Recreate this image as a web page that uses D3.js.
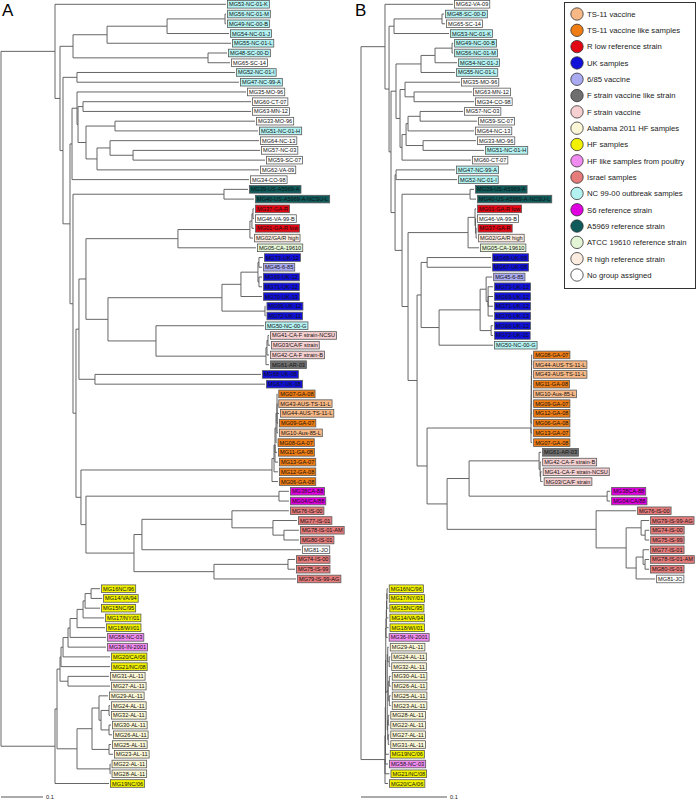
<!DOCTYPE html>
<html>
<head>
<meta charset="utf-8">
<script src="https://cdn.jsdelivr.net/npm/d3@7"></script>
<style>
  body { margin: 0; background: #fff; }
  svg { display: block; font-family: "Liberation Sans", Arial, sans-serif; }
</style>
</head>
<body>
<svg id="chart" width="696" height="800"></svg>
<script>
// ---- legend groups ----
const groupNames = ["TS-11 vaccine", "TS-11 vaccine like samples", "R low reference strain", "UK samples",
  "6/85 vaccine", "F strain vaccine like strain", "F strain vaccine", "Alabama 2011 HF samples", "HF samples",
  "HF like samples from poultry", "Israel samples", "NC 99-00 outbreak samples", "S6 reference strain",
  "A5969 reference strain", "ATCC 19610 reference strain", "R high reference strain", "No group assigned"];

const ts11Vaccine = ["MG43-AUS-TS-11-L", "MG44-AUS-TS-11-L", "MG10-Aus-85-L"];
const ts11Like = ["MG06-GA-08", "MG07-GA-08", "MG08-GA-07", "MG09-GA-07", "MG11-GA-08", "MG12-GA-08", "MG13-GA-07"];
const rLow = ["MG01-GA-R low", "MG37-GA-R"];
const ukSamples = ["MG66-UK-12", "MG67-UK-08", "MG68-UK-08", "MG69-UK-12", "MG70-UK-13", "MG71-UK-12", "MG72-UK-11", "MG73-UK-12"];
const vac685 = ["MG45-6-85"];
const fLike = ["MG61-AR-03"];
const fVaccine = ["MG41-CA-F strain-NCSU", "MG03/CA/F strain", "MG42-CA-F strain-B"];
const alabama = ["MG22-AL-11", "MG23-AL-11", "MG24-AL-11", "MG25-AL-11", "MG26-AL-11", "MG27-AL-11",
  "MG28-AL-11", "MG29-AL-11", "MG30-AL-11", "MG31-AL-11", "MG32-AL-11"];
const hfSamples = ["MG14/VA/94", "MG15NC/95", "MG16NC/96", "MG17/NY/01", "MG18/WI/01", "MG19NC/06", "MG20/CA/06", "MG21/NC/08"];
const hfLike = ["MG58-NC-03", "MG36-IN-2001"];
const israel = ["MG74-IS-00", "MG75-IS-99", "MG76-IS-00", "MG77-IS-01", "MG78-IS-01-AM", "MG79-IS-99-AG", "MG80-IS-01"];
const nc9900 = ["MG47-NC-99-A", "MG48-SC-00-D", "MG49-NC-00-B", "MG50-NC-00-G", "MG51-NC-01-H", "MG52-NC-01-I",
  "MG53-NC-01-K", "MG54-NC-01-J", "MG55-NC-01-L", "MG56-NC-01-M"];
const s6Ref = ["MG38CA-88", "MG04/CA/88"];
const a5969Ref = ["MG39-US-A5969-A", "MG40-US-A5969-A-NCSU-L"];
const atccRef = ["MG05-CA-19610"];
const rHigh = ["MG02/GA/R high"];
const groupMembers = [ts11Vaccine, ts11Like, rLow, ukSamples, vac685, fLike, fVaccine, alabama, hfSamples,
  hfLike, israel, nc9900, s6Ref, a5969Ref, atccRef, rHigh, []];

// ---- tree A (newick, branch lengths in substitutions/site) ----
const aNcTop = "(((MG56-NC-01-M:0.0024,MG49-NC-00-B:0.0024):0.138,MG54-NC-01-J:0.1476):0.1429,MG55-NC-01-L:0.2952):0.081,(MG48-SC-00-D:0.0452,MG65-SC-14:0.0524):0.3214";
const aMixed = "(MG35-MO-96:0.4024,((MG60-CT-07:0.4,MG63-MN-12:0.4):0.0119,((MG33-MO-96:0.3333,MG51-NC-01-H:0.3405):0.069,((MG64-NC-13:0.3548,(MG57-NC-03:0.3024,MG59-SC-07:0.3143):0.0548):0.031,MG62-VA-09:0.3857):0.0262):0.019):0.0024):0.0119,MG34-CO-98:0.4214";
const aRed = "((((MG37-GA-R:0.0024,MG46-VA-99-B:0.0024):0.0024,MG01-GA-R low:0.0048):0.0048,MG02/GA/R high:0.0071):0.1714,MG05-CA-19610:0.1857)";
const aUk = "((((MG73-UK-12:0.0095,MG45-6-85:0.0071):0.0024,(MG69-UK-12:0.0071,MG71-UK-12:0.0071):0.0024):0.0405,MG70-UK-13:0.05):0.0452,(MG66-UK-12:0.0012,MG72-UK-11:0.0012):0.1024)";
const aF = "(MG50-NC-00-G:0.2571,(((MG41-CA-F strain-NCSU:0.0024,MG03/CA/F strain:0.0048):0.0024,MG42-CA-F strain-B:0.0048):0.0024,MG61-AR-03:0.0071):0.2619)";
const aOrange = "(((((MG07-GA-08:0.0006,MG43-AUS-TS-11-L:0.0006,MG44-AUS-TS-11-L:0.0048,MG09-GA-07:0.0024,MG10-Aus-85-L:0.0024):0.0024,MG08-GA-07:0.0012):0.0024,MG11-GA-08:0.0048,MG13-GA-07:0.0071):0.0024,MG12-GA-08:0.0095):0.0048,MG06-GA-08:0.0143)";
const aIsrael = "(((MG76-IS-00:0.1357,(MG77-IS-01:0.0571,(MG78-IS-01-AM:0.0357,MG80-IS-01:0.0357):0.0262):0.0976):0.2143,MG81-JO:0.3786):0.019,((MG74-IS-00:0.0167,MG75-IS-99:0.0167):0.1762,MG79-IS-99-AG:0.1952):0.1905)";
const aHf = "((((((((MG16NC/96:0.0214,MG14/VA/94:0.0262):0.0143,MG15NC/95:0.0357):0.0048,MG17/NY/01:0.05):0.0143,MG18/WI/01:0.0667):0.0167,MG58-NC-03:0.0857):0.0048,MG36-IN-2001:0.0905):0.0119,MG20/CA/06:0.1119):0.0048,MG21/NC/08:0.1167)";
const aAl = "((MG29-AL-11:0.0214,((MG24-AL-11:0.0024,MG32-AL-11:0.0024):0.019,(MG30-AL-11:0.0048,MG26-AL-11:0.0071):0.019):0.0048):0.0167,(MG25-AL-11:0.0048,MG23-AL-11:0.0095):0.0405)";

const aN79 = "((" + aRed + ":0.219,(" + aUk + ":0.2714," + aF + ":0.1143):0.0524):0.0167,(MG68-UK-08:0.3952,MG67-UK-08:0.4048):0.0381)";
const aN81 = "(" + aOrange + ":0.4548,((MG38CA-88:0.0238,MG04/CA/88:0.0238):0.4595," + aIsrael + ":0.1143):0.0119)";
const aN73 = "((MG39-US-A5969-A:0.0571,MG40-US-A5969-A-NCSU-L:0.0714):0.3595,(" + aN79 + ":0.0071," + aN81 + ":0.0119):0.0071)";
const aTop = "(MG53-NC-01-K:0.4071,((" + aNcTop + "):0.031,((MG52-NC-01-I:0.3762,MG47-NC-99-A:0.3857):0.0333,((" + aMixed + "):0.0048," + aN73 + ":0.0071):0.0167):0.0071):0.0119)";
const aBottom = "(((" + aHf + ":0.0024,(MG31-AL-11:0.0976,MG27-AL-11:0.1):0.019):0.0071,(" + aAl + ":0.0357,(MG22-AL-11:0.0012,MG28-AL-11:0.0012):0.0786):0.0476):0.0048,MG19NC/06:0.1286)";
const treeA = "(" + aTop + ":0.1286," + aBottom + ":0.1286);";

// ---- tree B ----
const bNc = "((MG48-SC-00-D:0.0023,MG65-SC-14:0.0035):0.0558,MG53-NC-01-K:0.064)";
const bNc2 = "(((MG49-NC-00-B:0.0012,MG56-NC-01-M:0.0012):0.0198,MG54-NC-01-J:0.0256):0.0163,MG55-NC-01-L:0.0395)";
const bD1 = "(MG35-MO-96:0.064,(MG63-MN-12:0.0674,MG34-CO-98:0.0698):0.0105)";
const bC3 = "((((MG57-NC-03:0.05,MG59-SC-07:0.0663):0.014,MG64-NC-13:0.0767):0.0023,(MG33-MO-96:0.0616,MG51-NC-01-H:0.0709):0.0198):0.0047,MG60-CT-07:0.0802)";
const bRed = "((MG01-GA-R low:0.0012,(MG46-VA-99-B:0.0006,(MG37-GA-R:0.0006,MG02/GA/R high:0.0012):0.0006):0.0006):0.0081,MG05-CA-19610:0.0128)";
const bUk = "(((MG45-6-85:0.007,(MG73-UK-12:0.0058,MG69-UK-12:0.0058,MG71-UK-12:0.0058,MG70-UK-13:0.0058):0.0023):0.007,(MG66-UK-12:0.0023,MG72-UK-11:0.0023):0.0128):0.0477,MG50-NC-00-G:0.0628)";
const bOrange = "((((((((MG08-GA-07:0.0006,MG44-AUS-TS-11-L:0.0006):0.0001,MG43-AUS-TS-11-L:0.0007):0.0001,MG11-GA-08:0.0008):0.0001,MG10-Aus-85-L:0.0009):0.0001,MG09-GA-07:0.001):0.0001,MG12-GA-08:0.0011):0.0001,MG06-GA-08:0.0012):0.0001,MG13-GA-07:0.0013,MG07-GA-08:0.0013)";
const bF = "(MG61-AR-03:0.0023,(MG42-CA-F strain-B:0.0012,(MG41-CA-F strain-NCSU:0.0012,MG03/CA/F strain:0.0023):0.0006):0.0012)";
const bIsrael = "(MG76-IS-00:0.0465,((MG79-IS-99-AG:0.0093,(MG74-IS-00:0.0047,MG75-IS-99:0.0047):0.0047):0.0174,((MG77-IS-01:0.007,(MG78-IS-01-AM:0.0047,MG80-IS-01:0.0047):0.0023):0.0081,MG81-JO:0.0221):0.0116):0.0349)";
const bAl = "((MG29-AL-11:0.0012,(MG24-AL-11:0.0012,MG32-AL-11:0.0012):0.0017):0.0006,((MG30-AL-11:0.0017,MG26-AL-11:0.0017):0.0012,(MG25-AL-11:0.0017,MG23-AL-11:0.0017):0.0012):0.0012,((MG28-AL-11:0.0012,MG22-AL-11:0.0012):0.0006,(MG27-AL-11:0.0012,MG31-AL-11:0.0012):0.0006):0.0006)";
const bHf = "(((((((((MG16NC/96:0.0008,MG17/NY/01:0.0008):0.0003,MG15NC/95:0.0018):0.0003,MG14/VA/94:0.0022):0.0003,MG18/WI/01:0.0026):0.0003,MG36-IN-2001:0.0019):0.0003," + bAl + ":0.0017):0.0003,MG19NC/06:0.0038):0.0003,MG58-NC-03:0.0031):0.0003,MG21/NC/08:0.0052,MG20/CA/06:0.0035)";

const bN447 = "((" + bF + ":0.0814,(MG38CA-88:0.0035,MG04/CA/88:0.0035):0.1605):0.0256," + bIsrael + ":0.1733)";
const bN417 = "(((MG68-UK-08:0.0744,MG67-UK-08:0.0744):0.007," + bUk + ":0.0209):0.0047,(" + bOrange + ":0.1209," + bN447 + ":0.0233):0.0116)";
const bN395 = "((MG47-NC-99-A:0.0686,MG52-NC-01-I:0.0709):0.0012,((MG39-US-A5969-A:0.0047,MG40-US-A5969-A-NCSU-L:0.007):0.0791,(" + bRed + ":0.0698," + bN417 + ":0.0105):0.007):0.0081)";
const bN396 = "(" + bNc2 + ":0.0291,(" + bD1 + ":0.0058," + bC3 + ":0.0023):0.0047)";
const bTop = "(MG62-VA-09:0.0791,(" + bNc + ":0.0058,(" + bN396 + ":0.0058," + bN395 + ":0.0047):0.0023):0.0047)";
const treeB = "(" + bTop + ":0.0279," + bHf + ":0.0279);";

const scaleBarValue = 0.1;

// ---- colours ----
const groupColors = ["#f8b886", "#ef7d14", "#e30613", "#1010d8", "#aaaaf0", "#6f6f6f", "#f6cfd0", "#fbf7d6",
  "#f2f200", "#f08cf0", "#e57b7b", "#b4f2f2", "#e000e0", "#0f5a5a", "#e4f5d6", "#fcece0", "#ffffff"];

const groupOf = new Map();
groupMembers.forEach((list, i) => list.forEach(n => groupOf.set(n, i)));
const noGroup = groupNames.length - 1;

function parseNewick(s) {
  let i = 0;
  function node() {
    const n = {};
    if (s[i] === "(") {
      i++;
      n.children = [];
      n.children.push(node());
      while (s[i] === ",") { i++; n.children.push(node()); }
      i++; // ")"
    }
    let name = "";
    while (i < s.length && !",():;".includes(s[i])) name += s[i++];
    n.name = name.trim();
    if (s[i] === ":") {
      i++;
      let num = "";
      while (i < s.length && !",();".includes(s[i])) num += s[i++];
      n.length = +num;
    }
    return n;
  }
  return node();
}

const svg = d3.select("#chart");
svg.append("rect").attr("width", 696).attr("height", 800).attr("fill", "#fff");

const yLeaf = d3.scaleLinear().domain([0, 80]).range([4.3, 783.5]);
const xA = d3.scaleLinear().domain([0, scaleBarValue]).range([1, 43]);
const xB = d3.scaleLinear().domain([0, scaleBarValue]).range([361, 447]);

function drawTree(newick, x) {
  const g = svg.append("g");
  const root = d3.hierarchy(parseNewick(newick));
  root.each(d => { d.dist = d.parent ? d.parent.dist + (d.data.length || 0) : 0; });
  root.leaves().forEach((d, i) => { d.yy = yLeaf(i); });
  root.eachAfter(d => {
    if (d.children) d.yy = (d.children[0].yy + d.children[d.children.length - 1].yy) / 2;
  });

  g.selectAll("path.link")
    .data(root.descendants().slice(1))
    .join("path")
    .attr("class", "link")
    .attr("fill", "none")
    .attr("stroke", "#555")
    .attr("stroke-width", 0.9)
    .attr("d", d => `M${x(d.parent.dist)},${d.parent.yy}V${d.yy}H${x(d.dist)}`);

  const leaf = g.selectAll("g.leaf")
    .data(root.leaves())
    .join("g")
    .attr("class", "leaf")
    .attr("transform", d => `translate(${x(d.dist) + 1.5},${d.yy})`);

  leaf.append("rect")
    .attr("y", -3.8)
    .attr("height", 7.6)
    .attr("fill", d => groupColors[groupOf.has(d.data.name) ? groupOf.get(d.data.name) : noGroup])
    .attr("stroke", "#5a5a5a")
    .attr("stroke-width", 0.8);

  leaf.append("text")
    .attr("x", 1.5)
    .attr("y", 2)
    .attr("font-size", 5.6)
    .attr("fill", "#111")
    .text(d => d.data.name);

  leaf.each(function() {
    const w = d3.select(this).select("text").node().getComputedTextLength();
    d3.select(this).select("rect").attr("width", w + 3);
  });

  // scale bar
  g.append("line")
    .attr("x1", x(0)).attr("x2", x(scaleBarValue))
    .attr("y1", 797).attr("y2", 797)
    .attr("stroke", "#444").attr("stroke-width", 0.9);
  g.append("text")
    .attr("x", x(scaleBarValue) + 3).attr("y", 799)
    .attr("font-size", 5.6).attr("fill", "#222")
    .text(scaleBarValue);
}

drawTree(treeA, xA);
drawTree(treeB, xB);

// panel letters
svg.append("text").attr("x", 2).attr("y", 16).attr("font-size", 17).text("A");
svg.append("text").attr("x", 355).attr("y", 16).attr("font-size", 17).text("B");

// legend
const legend = svg.append("g");
legend.append("rect")
  .attr("x", 564.5).attr("y", 2.5).attr("width", 131).attr("height", 286)
  .attr("fill", "#fff").attr("stroke", "#333").attr("stroke-width", 1);

const ly = d3.scaleLinear().domain([0, groupNames.length - 1]).range([14, 275]);
const item = legend.selectAll("g.item")
  .data(groupNames)
  .join("g")
  .attr("class", "item")
  .attr("transform", (d, i) => `translate(577,${ly(i)})`);
item.append("circle")
  .attr("r", 6.2)
  .attr("fill", (d, i) => groupColors[i])
  .attr("stroke", "#333")
  .attr("stroke-width", 0.8);
item.append("text")
  .attr("x", 10)
  .attr("y", 2.8)
  .attr("font-size", 7.7)
  .attr("fill", "#222")
  .text(d => d);
</script>
</body>
</html>
